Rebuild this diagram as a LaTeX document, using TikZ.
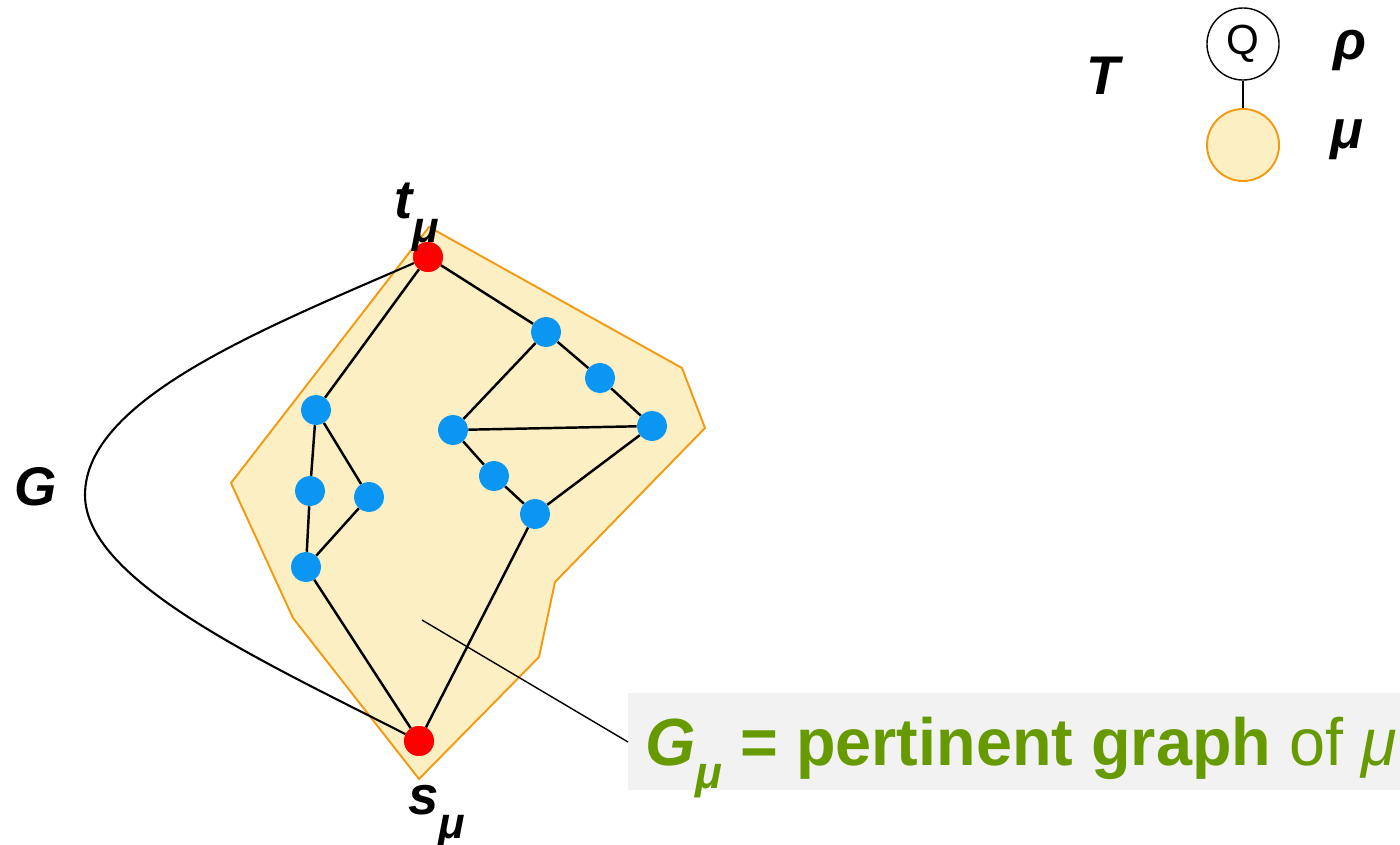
\documentclass[tikz,border=0pt]{standalone}
\usepackage{fontspec}
\setmainfont{Liberation Sans}
\newfontfamily\capfont[FakeStretch=0.97]{Liberation Sans}
\definecolor{pertfill}{HTML}{FDEFC4}
\definecolor{pertline}{HTML}{F29A12}
\definecolor{vblue}{HTML}{0A96F2}
\definecolor{vred}{HTML}{FF0000}
\definecolor{textgreen}{HTML}{669A00}
\definecolor{boxgray}{HTML}{F2F2F2}
\tikzset{
	vertex/.style={circle, fill=vblue, inner sep=0pt, minimum size=17pt},
	pole/.style={circle, fill=vred, inner sep=0pt, minimum size=17pt},
	edge/.style={line width=1.4pt},
	biglabel/.style={font=\fontsize{31}{33}\selectfont\bfseries\itshape},
	treenode/.style={circle, inner sep=0pt, minimum size=41pt},
}
\newcommand{\lowmu}[1]{\raisebox{-0.45em}{\fontsize{#1}{#1}\selectfont\bfseries\itshape μ}}
\begin{document}
\begin{tikzpicture}[x=0.02cm, y=-0.02cm]
	\useasboundingbox (0, 0) rectangle (1400, 845);
	% pertinent region of mu
	\filldraw[fill=pertfill, draw=pertline, line width=1.1pt]
		(429, 227) -- (682, 368) -- (705, 428) -- (555, 582) -- (539, 657)
		-- (419, 779) -- (293, 618) -- (231, 483) -- cycle;
	% poles
	\node[pole] (t) at (428, 257) {};
	\node[pole] (s) at (419, 741) {};
	% inner vertices
	\node[vertex] (a) at (546, 332) {};
	\node[vertex] (b) at (600, 378) {};
	\node[vertex] (c) at (652, 426) {};
	\node[vertex] (d) at (453, 430) {};
	\node[vertex] (e) at (494, 476) {};
	\node[vertex] (f) at (535, 514) {};
	\node[vertex] (g) at (316, 410) {};
	\node[vertex] (h) at (310, 491) {};
	\node[vertex] (i) at (369, 497) {};
	\node[vertex] (j) at (306, 567) {};
	\foreach \u/\v in {t/a, a/b, b/c, a/d, d/c, d/e, e/f, f/c, t/g, g/h, g/i, h/j, i/j, j/s, f/s}{
		\draw[edge] (\u) -- (\v);
	}
	% rest of G
	\draw[line width=1.2pt] (t) .. controls (260, 330) and (85, 400) .. (85, 495)
		.. controls (85, 580) and (260, 660) .. (s);
	% redraw poles over the lines
	\node[pole] at (t) {};
	\node[pole] at (s) {};
	\node[biglabel, anchor=base] (tlab) at (417, 218) {t\lowmu{25}};
	\node[biglabel, anchor=base] (slab) at (437, 814) {s\lowmu{25}};
	\node[biglabel] (glab) at (36, 487) {G};
	% tree T
	\node[biglabel] (tree) at (1103, 76) {T};
	\node[treenode, draw, line width=0.8pt, font=\fontsize{24}{24}\selectfont] (rho) at (1243, 44) {Q};
	\node[treenode, draw=pertline, fill=pertfill, line width=1.1pt] (mu) at (1243, 145) {};
	\draw[line width=1pt] (rho) -- (mu);
	\node[biglabel] (rholab) at (1350, 50) {ρ};
	\node[biglabel] (mulab) at (1347, 140) {μ};
	% caption
	\fill[boxgray] (628, 693) rectangle (1400, 790);
	\node[anchor=base west, inner sep=0pt, text=textgreen,
		font=\capfont\fontsize{38}{40}\selectfont] (cap) at (645, 765)
		{\bfseries\itshape G\raisebox{-0.35em}{\fontsize{26}{26}\selectfont μ}\upshape{} = pertinent graph \mdseries of \itshape μ};
	\coordinate (inside) at (422, 620);
	\coordinate (boxedge) at (628, 742);
	\draw[line width=0.8pt] (inside) -- (boxedge);
\end{tikzpicture}
\end{document}
